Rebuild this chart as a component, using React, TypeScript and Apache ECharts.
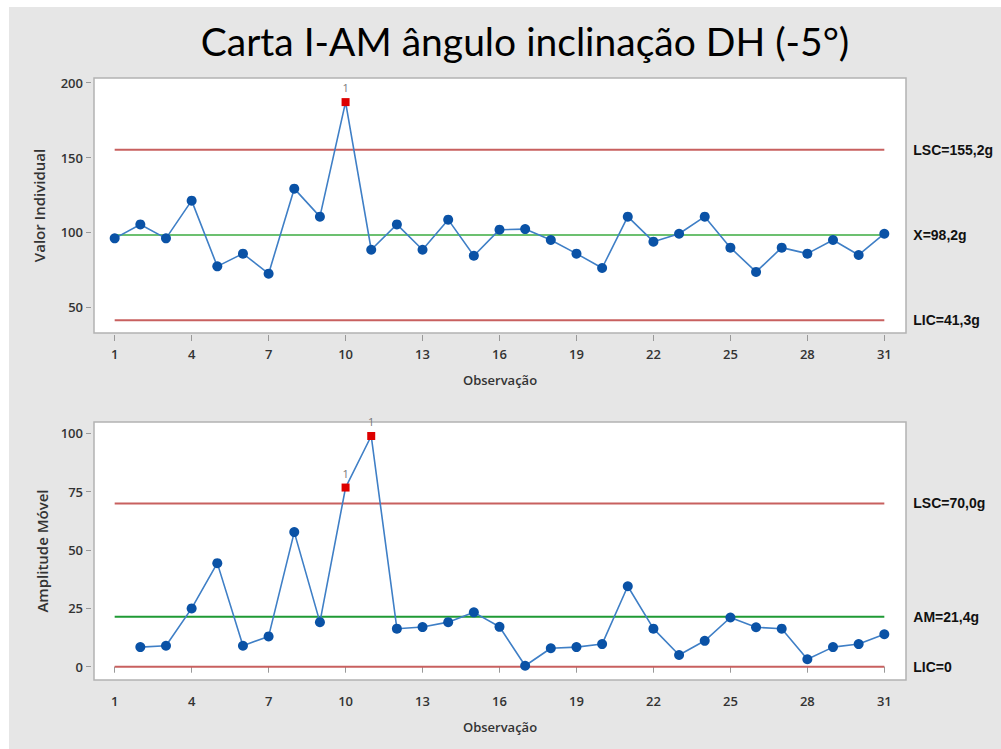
import React, { useEffect, useRef } from "react";
import * as echarts from "echarts";

// ---- data ----
const individualValues = [96, 105.3, 96, 121.2, 77.3, 85.8, 72.4, 129.2, 110.5, 187, 88.4, 105.3, 88.4, 108.5, 84.4, 101.8, 102.2, 94.9, 85.8, 76.2, 110.5, 93.8, 99.1, 110.5, 89.8, 73.6, 89.8, 85.8, 94.9, 84.9, 99.1];
const movingRangeValues = [8.4, 9.0, 25, 44.4, 9.0, 13, 57.7, 19.1, 76.8, 98.9, 16.3, 17, 19.1, 23.3, 17.1, 0.4, 7.9, 8.4, 9.7, 34.5, 16.3, 5, 11.1, 21.1, 16.9, 16.3, 3.2, 8.4, 9.7, 13.9];
const individualFlagged = [10];
const movingRangeFlagged = [10, 11];
const xTickValues = [1, 4, 7, 10, 13, 16, 19, 22, 25, 28, 31];
const individualTicks = [50, 100, 150, 200];
const movingRangeTicks = [0, 25, 50, 75, 100];
const individualLimits = [
  { name: "LSC=155,2g", value: 155.2, kind: "limit" },
  { name: "X=98,2g", value: 98.2, kind: "center" },
  { name: "LIC=41,3g", value: 41.3, kind: "limit" },
];
const movingRangeLimits = [
  { name: "LSC=70,0g", value: 70.0, kind: "limit" },
  { name: "AM=21,4g", value: 21.4, kind: "center" },
  { name: "LIC=0", value: 0, kind: "limit" },
];
const firstObs = 1;
const lastObs = 31;

const TITLE = "Carta I-AM ângulo inclinação DH (-5°)";
const X_MIN = 0.194;
const X_MAX = 31.845;

const tickFont = "'Open Sans', 'Noto Sans', sans-serif";
const labelFont = "'Liberation Sans Narrow', 'Liberation Sans', Arial, sans-serif";

export default function App() {
  const ref = useRef<HTMLDivElement>(null);

  useEffect(() => {
    if (!ref.current) return;
    const chart = echarts.init(ref.current, undefined, { renderer: "svg" });

    const pointData = (vals: number[], startObs: number, flagged: number[]) =>
      vals.map((v, i) => {
        const obs = i + startObs;
        if (flagged.includes(obs)) {
          return {
            value: [obs, v],
            symbol: "rect",
            symbolSize: 8,
            itemStyle: { color: "#dd0000" },
            label: {
              show: true,
              position: "top",
              distance: 5,
              formatter: "1",
              color: "#777",
              fontSize: 11,
              fontFamily: tickFont,
            },
          };
        }
        return { value: [obs, v] };
      });

    const limitSeries = (limits: any[], gridIdx: number, centerColor: string) =>
      limits.map((l) => ({
        type: "line",
        xAxisIndex: gridIdx,
        yAxisIndex: gridIdx,
        data: [
          [firstObs, l.value],
          [lastObs, l.value],
        ],
        symbol: "none",
        silent: true,
        z: 1,
        lineStyle: { color: l.kind === "center" ? centerColor : "#c8605f", width: 2 },
        endLabel: {
          show: true,
          formatter: l.name,
          distance: 29,
          color: "#111",
          fontSize: 14,
          fontWeight: "bold",
          fontFamily: labelFont,
        },
      }));

    const xAxis = (gridIndex: number) => ({
      gridIndex,
      type: "value",
      min: X_MIN,
      max: X_MAX,
      offset: 2,
      axisLine: { show: false },
      splitLine: { show: false },
      axisTick: { show: true, length: 6, lineStyle: { color: "#999" }, customValues: xTickValues },
      axisLabel: {
        customValues: xTickValues,
        margin: 12,
        fontSize: 13,
        color: "#333",
        fontWeight: 600,
        fontFamily: tickFont,
      },
      name: "Observação",
      nameLocation: "middle",
      nameGap: 38,
      nameTextStyle: { fontSize: 13, color: "#333", fontFamily: tickFont, fontWeight: 600 },
    });

    const yAxis = (gridIndex: number, min: number, max: number, ticks: number[], name: string, gap: number) => ({
      gridIndex,
      type: "value",
      min,
      max,
      offset: 3,
      axisLine: { show: false },
      splitLine: { show: false },
      axisTick: { show: true, length: 5, lineStyle: { color: "#999" }, customValues: ticks },
      axisLabel: {
        customValues: ticks,
        margin: 8,
        fontSize: 13,
        color: "#333",
        fontWeight: 600,
        fontFamily: tickFont,
      },
      name,
      nameLocation: "middle",
      nameGap: gap,
      nameTextStyle: { fontSize: 15, color: "#333", fontFamily: tickFont, fontWeight: 600 },
    });

    const dataSeries = (vals: number[], startObs: number, flagged: number[], gridIdx: number) => ({
      type: "line",
      xAxisIndex: gridIdx,
      yAxisIndex: gridIdx,
      data: pointData(vals, startObs, flagged),
      symbol: "circle",
      symbolSize: 10,
      showAllSymbol: true,
      z: 3,
      lineStyle: { color: "#3f7fc6", width: 1.6 },
      itemStyle: { color: "#0a52a6" },
    });

    chart.setOption({
      animation: false,
      backgroundColor: "#ffffff",
      graphic: [
        {
          type: "rect",
          shape: { x: 9, y: 7, width: 1001 - 9, height: 749 - 7 },
          style: { fill: "#e6e6e6" },
          z: -10,
          silent: true,
        },
        {
          type: "text",
          x: 525,
          y: 41,
          silent: true,
          style: {
            text: TITLE,
            align: "center",
            verticalAlign: "middle",
            fontFamily: "Lato, 'Noto Sans', sans-serif",
            fontSize: 39,
            fontWeight: "normal",
            fill: "#000",
          },
        },
      ],
      grid: [
        { left: 94, top: 78, width: 812, height: 255, show: true, backgroundColor: "#ffffff", borderColor: "#b3b3b3", borderWidth: 1.5 },
        { left: 94, top: 422, width: 812, height: 258, show: true, backgroundColor: "#ffffff", borderColor: "#b3b3b3", borderWidth: 1.5 },
      ],
      xAxis: [xAxis(0), xAxis(1)],
      yAxis: [
        yAxis(0, 32.8, 203.1, individualTicks, "Valor Individual", 45),
        yAxis(1, -5.7, 104.9, movingRangeTicks, "Amplitude Móvel", 42),
      ],
      series: [
        ...limitSeries(individualLimits, 0, "#6cc070"),
        ...limitSeries(movingRangeLimits, 1, "#1f9a35"),
        dataSeries(individualValues, 1, individualFlagged, 0),
        dataSeries(movingRangeValues, 2, movingRangeFlagged, 1),
      ],
    });

    return () => chart.dispose();
  }, []);

  return (
    <div style={{ position: "absolute", left: 0, top: 0, width: 1001, height: 749, background: "#fff" }}>
      <div ref={ref} style={{ width: 1001, height: 749 }} />
    </div>
  );
}
